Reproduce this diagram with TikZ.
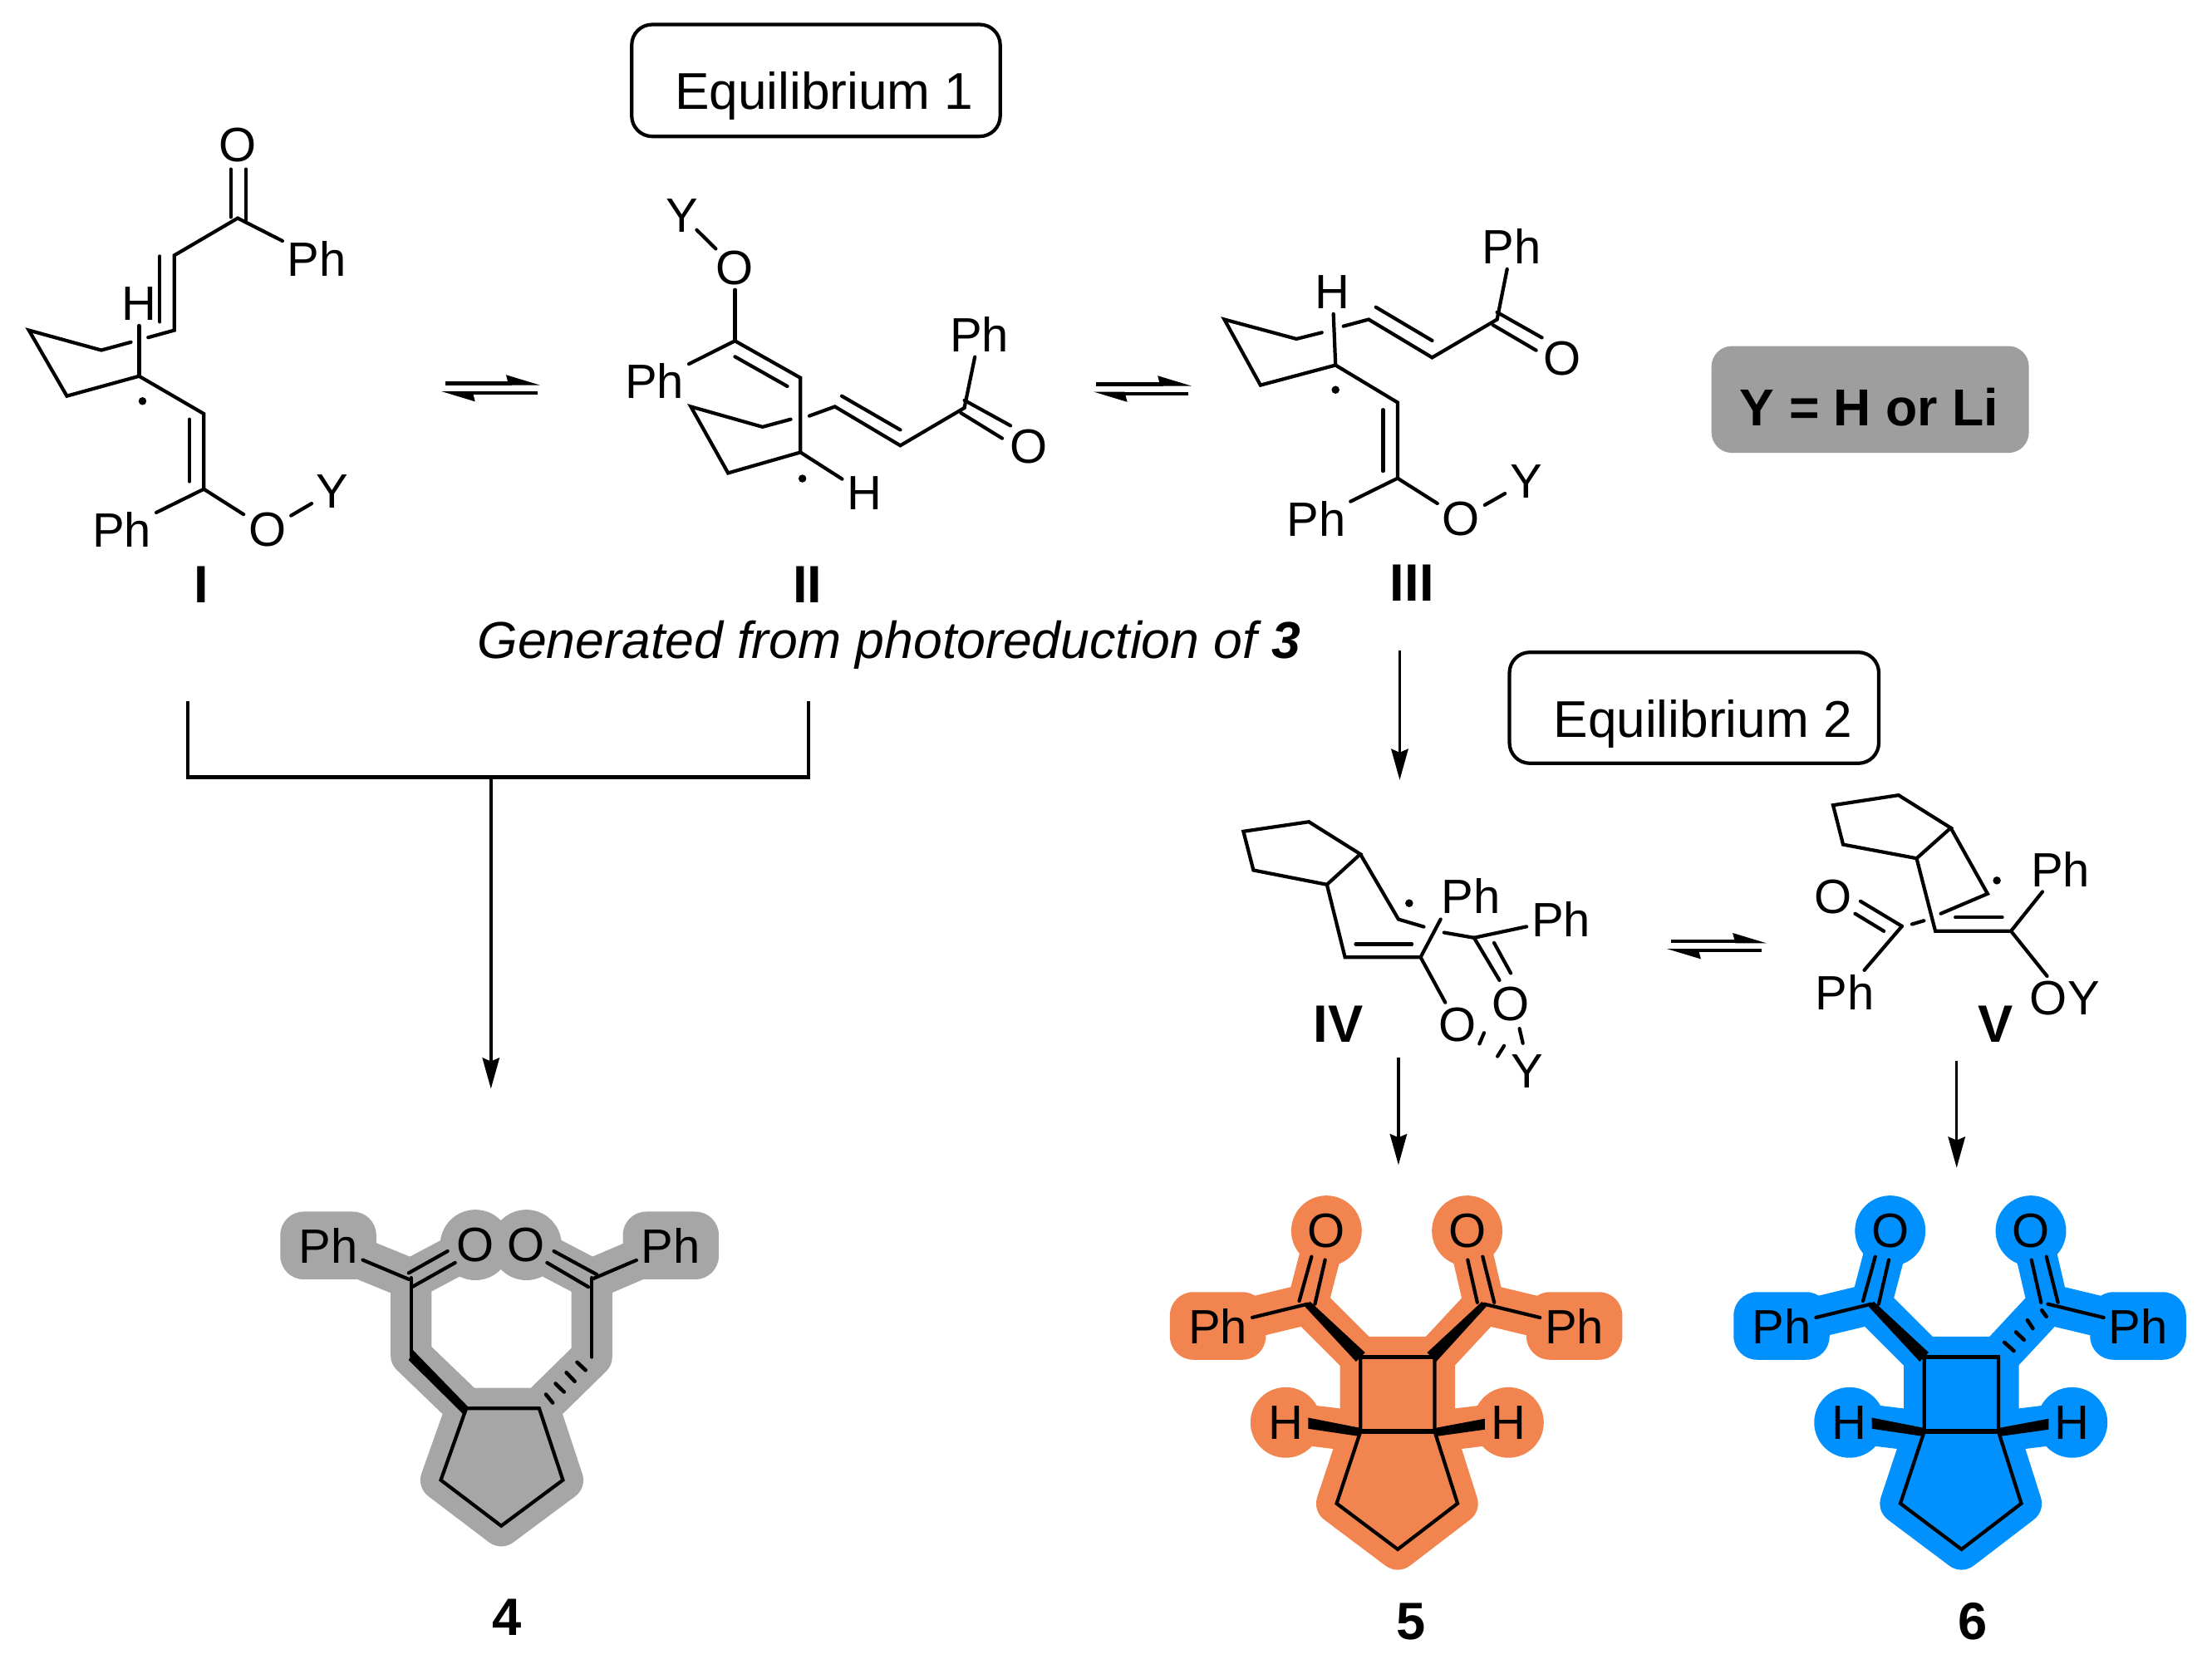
\documentclass[tikz,border=0pt]{standalone}
\usepackage{fontspec}
\setmainfont{Liberation Sans}
\usetikzlibrary{arrows.meta,positioning}

\definecolor{halogray}{HTML}{A6A6A6}
\definecolor{halored}{HTML}{F1844F}
\definecolor{haloblue}{HTML}{0091FF}
\definecolor{keygray}{HTML}{9E9E9E}

\tikzset{
    bond/.style={line width=1.2pt, line cap=round, line join=miter},
    heavy/.style={line width=1.6pt, line cap=butt},
    atom/.style={font=\fontsize{16.5}{19}\selectfont, inner sep=1.5pt},
    tag/.style={font=\fontsize{18}{21}\bfseries\selectfont, inner sep=0pt},
    caption/.style={font=\fontsize{17.7}{21}\selectfont, inner sep=0pt, anchor=base west},
    frame/.style={line width=1.2pt, rounded corners=7pt},
    rxn/.style={line width=1pt, -{Stealth[length=10.6pt, width=5.8pt, inset=1.2pt]}},
    eqline/.style={line width=1.2pt, -{Stealth[harpoon, length=9.5pt, width=5.5pt, inset=0.6pt]}},
    halo/.style={line width=14pt, line cap=round, line join=round, draw=#1}
}

% halo blobs behind the Ph and O/H labels
\newcommand{\phblob}[3]{\fill[#1, rounded corners=8pt] (#2-34,#3-24) rectangle (#2+34,#3+24);}
\newcommand{\atomblob}[3]{\fill[#1] (#2,#3) circle (25);}

% bicyclic product, coloured halo and all bonds shared by 5 and 6
\newcommand{\bicyclic}[2]{
    \draw[halo=#2, fill=#2] (964.4,962.2) -- (1017,962.2) -- (1017,1015) -- (1033.2,1066) -- (990.8,1098.5) -- (947.5,1066) -- (964.4,1015) -- cycle;
    \draw[halo=#2] (940.3,873) -- (926.8,924.6) -- (964.4,962.2);
    \draw[halo=#2] (1040,873) -- (1052,924.6) -- (1017,962.2);
    \draw[halo=#2] (863,940) -- (926.8,924.6);
    \draw[halo=#2] (1116,940) -- (1052,924.6);
    \draw[halo=#2] (911.4,1008.6) -- (964.4,1015);
    \draw[halo=#2] (1069.3,1008.6) -- (1017,1015);
    \phblob{#2}{863.3}{940.1}
    \phblob{#2}{1116}{940.1}
    \atomblob{#2}{940.3}{872.7}
    \atomblob{#2}{1040}{872.7}
    \atomblob{#2}{911.4}{1008.6}
    \atomblob{#2}{1069.3}{1008.6}
    \node[atom] (#1ol) at (940.3,872.7) {O};
    \node[atom] (#1or) at (1040,872.7) {O};
    \node[atom] (#1phl) at (863.3,940.1) {Ph};
    \node[atom] (#1phr) at (1116,940.1) {Ph};
    \node[atom] (#1hl) at (911.4,1008.6) {H};
    \node[atom] (#1hr) at (1069.3,1008.6) {H};
    \coordinate (#1cl) at (926.8,924.6);
    \coordinate (#1cr) at (1052,924.6);
    \draw[bond] (#1cl) -- (#1phl);
    \draw[bond] (#1cr) -- (#1phr);
    \draw[bond] (921,922.4) -- (929.7,891);
    \draw[bond] (932.1,924.6) -- (939.3,893.3);
    \draw[bond] (1047.2,923.5) -- (1040.4,893.3);
    \draw[bond] (1059.2,923.5) -- (1051,891);
    % wedges
    \fill (928.6,922.8) -- (967.6,959) -- (961.2,965.4) -- (925,926.4) -- cycle;
    \fill (964.4,1012.5) -- (964.4,1018.5) -- (927.3,1013) -- (927.3,1005.2) -- cycle;
    \fill (1017.3,1012.5) -- (1017.3,1018.5) -- (1052.5,1013.6) -- (1052.5,1005.9) -- cycle;
    % ring
    \draw[heavy] (963,962.2) -- (1018,962.2);
    \draw[bond] (964.4,962.2) -- (964.4,1015) -- (947.5,1066) -- (990.8,1098.5) -- (1033.2,1066) -- (1017,1015) -- (1017,962.2);
    \draw[heavy] (963,1015) -- (1018,1015);
}

\begin{document}
\begin{tikzpicture}[x=0.016977cm, y=-0.016977cm]
    \useasboundingbox (0,0) rectangle (1568,1182.8);

    % Structure I
    \node[atom] (Io) at (168.5,102.7) {O};
    \node[atom] (Iph) at (224.6,183.2) {Ph};
    \node[atom] (Ih) at (98.6,215.6) {H};
    \node[atom] (Iphb) at (86.4,375.4) {Ph};
    \node[atom] (Ioy) at (189.5,375.4) {O};
    \node[atom] (Iy) at (235.8,348.3) {Y};
    \node[tag] (Ilab) at (143,414.4) {I};
    \coordinate (Ic) at (168.5,154.7);
    \coordinate (Ir) at (98.6,266.7);
    \coordinate (Ie) at (144.5,346.8);
    \draw[bond] (163.6,120) -- (163.6,154);
    \draw[bond] (174.3,120) -- (174.3,156);
    \draw[bond] (Ic) -- (Iph);
    \draw[bond] (Ic) -- (123.5,181.1) -- (123.5,234.2) -- (105,239.3);
    \draw[bond] (113.3,181.7) -- (113.3,228.2);
    \draw[bond] (92.8,242.6) -- (71.8,248.3) -- (20.5,234.2) -- (47.4,280.8) -- (Ir);
    \draw[bond] (Ir) -- (Ih);
    \fill (101,284.4) circle (2.8);
    \draw[bond] (Ir) -- (144.5,293.4) -- (Ie);
    \draw[bond] (134.3,297.3) -- (134.3,341.4);
    \draw[bond] (Ie) -- (Iphb);
    \draw[bond] (Ie) -- (Ioy);
    \draw[bond] (Ioy) -- (Iy);

    % Equilibrium 1
    \draw[frame] (447.8,17.4) rectangle (709,96.7);
    \node[caption] (eqone) at (478,77.5) {Equilibrium 1};
    \coordinate (ea) at (316,271.8);
    \coordinate (eb) at (383,271.8);
    \coordinate (ec) at (380.9,278.7);
    \coordinate (ed) at (312.5,278.7);
    \draw[eqline] (ea) -- (eb);
    \draw[eqline] (ec) -- (ed);

    % Structure II
    \node[atom] (IIy) at (483.4,152.7) {Y};
    \node[atom] (IIo) at (521,189.8) {O};
    \node[atom] (IIph) at (463.9,270.3) {Ph};
    \node[atom] (IIphb) at (694.3,237.2) {Ph};
    \node[atom] (IIob) at (729,316.8) {O};
    \node[atom] (IIh) at (612.8,349.8) {H};
    \node[tag] (IIlab) at (572.3,414.4) {II};
    \coordinate (IIc) at (521,241.7);
    \coordinate (IIr) at (567.4,320.7);
    \coordinate (IIk) at (683.6,289.2);
    \draw[bond, shorten <=-3pt, shorten >=-1.5pt] (IIy) -- (IIo);
    \draw[bond] (IIo) -- (IIc);
    \draw[bond] (IIc) -- (IIph);
    \draw[bond] (IIc) -- (567.4,267.9) -- (IIr);
    \draw[bond] (521,252.9) -- (558.1,273.9);
    \draw[bond] (IIr) -- (516.1,335.4) -- (489.7,288.3) -- (540.5,302.7) -- (560.5,297.3);
    \draw[bond] (573.7,294.9) -- (591.8,288.3) -- (638.2,315.9) -- (IIk);
    \draw[bond] (596.7,280.8) -- (638.2,304.8);
    \draw[bond] (IIk) -- (IIphb);
    \draw[bond] (683.6,283.8) -- (716.3,301.8);
    \draw[bond] (681.2,292.8) -- (710.4,310.8);
    \draw[bond] (IIr) -- (IIh);
    \fill (568.8,339.3) circle (2.8);

    \coordinate (fa) at (776.9,272.4);
    \coordinate (fb) at (844.9,272.4);
    \coordinate (fc) at (842.3,279);
    \coordinate (fd) at (774.8,279);
    \draw[eqline] (fa) -- (fb);
    \draw[eqline] (fc) -- (fd);

    % Structure III
    \node[atom] (IIIph) at (1071.5,174.9) {Ph};
    \node[atom] (IIIo) at (1107.3,254.4) {O};
    \node[atom] (IIIh) at (944.6,207.3) {H};
    \node[atom] (IIIphb) at (932.9,367.6) {Ph};
    \node[atom] (IIIoy) at (1035.7,367.6) {O};
    \node[atom] (IIIy) at (1081.7,341.5) {Y};
    \node[tag] (IIIlab) at (1000.9,413.6) {III};
    \coordinate (IIIk) at (1061.2,226.5);
    \coordinate (IIIr) at (946.7,258.9);
    \coordinate (IIIe) at (990.7,339.1);
    \draw[bond] (IIIk) -- (IIIph);
    \draw[bond] (1061.2,221.4) -- (1093,239.4);
    \draw[bond] (1058.2,230.4) -- (1088.9,248.4);
    \draw[bond] (IIIk) -- (1015.2,253.5) -- (970.2,226.5) -- (952.3,231.3);
    \draw[bond] (975.3,217.8) -- (1015.2,241.5);
    \draw[bond] (937,235.8) -- (919,240.3) -- (867.9,226.5) -- (893.5,273.1) -- (IIIr);
    \draw[bond] (IIIr) -- (IIIh);
    \fill (946.7,276.4) circle (2.8);
    \draw[bond] (IIIr) -- (990.7,285.4) -- (IIIe);
    \draw[bond] (980.4,290.5) -- (980.4,334);
    \draw[bond] (IIIe) -- (IIIphb);
    \draw[bond] (IIIe) -- (IIIoy);
    \draw[bond] (IIIoy) -- (IIIy);

    % Key
    \fill[keygray, rounded corners=7pt] (1213.2,245.4) rectangle (1438.2,321.1);
    \node[caption, font=\fontsize{17.8}{21}\bfseries\selectfont] (key) at (1233,301.6) {Y = H or Li};

    \node[caption, font=\fontsize{17.8}{21}\selectfont] (source) at (338,467) {\itshape Generated from photoreduction of \bfseries 3};

    % Bracket to 4
    \coordinate (bl) at (133,497);
    \coordinate (br) at (573,497);
    \coordinate (bm) at (348,551);
    \coordinate (bt) at (348,772);
    \draw[bond, line cap=butt] (bl) |- (br |- bm) -- (br);
    \draw[rxn] (bm) -- (bt);

    \coordinate (ca) at (992.2,461);
    \coordinate (cb) at (992.2,553);
    \draw[rxn] (ca) -- (cb);

    % Equilibrium 2
    \draw[frame] (1070,462.5) rectangle (1331.8,541.2);
    \node[caption] (eqtwo) at (1100.8,522.6) {Equilibrium 2};

    % Structure IV
    \node[atom] (IVph) at (1042.5,635) {Ph};
    \node[atom] (IVphb) at (1106.5,651.8) {Ph};
    \node[atom] (IVo) at (1033,726.4) {O};
    \node[atom] (IVob) at (1071,711.6) {O};
    \node[atom] (IVy) at (1082.8,759.7) {Y};
    \node[tag] (IVlab) at (948.7,726.4) {IV};
    \coordinate (IVa) at (1007,678.7);
    \coordinate (IVk) at (1044.9,664.9);
    \draw[bond] (964.3,605.6) -- (927.8,582.7) -- (881.4,589.5) -- (888.5,617) -- (940.6,627.2) -- cycle;
    \draw[bond] (964.3,605.6) -- (991.3,651.8) -- (1009.3,657.1);
    \draw[bond] (1023.6,661.2) -- (IVk);
    \draw[bond] (940.6,627.2) -- (953.4,678.7) -- (IVa);
    \draw[bond] (961,669.4) -- (1000.8,669.4);
    \draw[bond] (IVa) -- (1021.2,651.8);
    \draw[bond] (IVa) -- (IVo);
    \draw[bond] (IVk) -- (IVphb);
    \draw[bond] (IVk) -- (1062.9,695);
    \draw[bond] (1059.1,668.5) -- (1070.9,690);
    \fill (998.9,640.4) circle (2.8);
    \foreach \xa/\ya/\xb/\yb in {1052/732.3/1048.7/740.1, 1066.2/741.5/1061.5/749, 1077.1/729.3/1079.5/739.7}
        \draw[bond] (\xa,\ya) -- (\xb,\yb);

    \coordinate (ga) at (1184.7,667.5);
    \coordinate (gb) at (1252.5,667.5);
    \coordinate (gc) at (1248.7,674);
    \coordinate (gd) at (1181.4,674);
    \draw[eqline] (ga) -- (gb);
    \draw[eqline] (gc) -- (gd);

    % Structure V
    \node[atom] (Vph) at (1460.5,616.4) {Ph};
    \node[atom] (Vo) at (1299.4,636) {O};
    \node[atom] (Vphb) at (1307.9,703.8) {Ph};
    \node[atom] (Voy) at (1463.6,707.7) {OY};
    \node[tag] (Vlab) at (1414.5,726.4) {V};
    \coordinate (Va) at (1425.5,660.2);
    \coordinate (Vk) at (1348.2,656.7);
    \draw[bond] (1382.8,587) -- (1345.8,563.8) -- (1299.4,570.9) -- (1306.5,598.8) -- (1358.6,608.6) -- cycle;
    \draw[bond] (1382.8,587) -- (1408.9,633.7) -- (1375.7,647.8);
    \draw[bond] (1358.6,608.6) -- (1371.9,660.2) -- (Va);
    \draw[bond] (1386.1,650.4) -- (1419.3,650.4);
    \draw[bond] (Va) -- (Vph);
    \draw[bond] (Va) -- (Voy);
    \draw[bond] (Vk) -- (1318.8,639);
    \draw[bond] (1335.4,660.2) -- (1315,647.8);
    \draw[bond] (Vk) -- (Vphb);
    \draw[bond] (1355.3,655.3) -- (1363.8,652.8);
    \fill (1415.5,624.3) circle (2.8);

    \coordinate (ha) at (991.3,750);
    \coordinate (hb) at (991.3,826);
    \coordinate (ja) at (1387,752);
    \coordinate (jb) at (1387,828);
    \draw[rxn] (ha) -- (hb);
    \draw[rxn] (ja) -- (jb);

    % Product 4
    \draw[halo=halogray, line width=14pt, fill=halogray] (330.5,998.6) -- (382.2,998.6) -- (399,1049.4) -- (355.3,1081.9) -- (312.5,1049.4) -- cycle;
    \draw[halo=halogray] (232.7,883) -- (291.4,907) -- (291.4,961) -- (330.5,998.6);
    \draw[halo=halogray] (337,882.7) -- (291.4,907);
    \draw[halo=halogray] (475.5,883) -- (419.5,907) -- (419.5,962) -- (382.2,998.6);
    \draw[halo=halogray] (373.1,882.7) -- (419.5,907);
    \phblob{halogray}{232.7}{883.1}
    \phblob{halogray}{475.5}{883.1}
    \atomblob{halogray}{337}{882.7}
    \atomblob{halogray}{373.1}{882.7}
    \node[atom] (fphl) at (232.7,883.1) {Ph};
    \node[atom] (fol) at (337,882.7) {O};
    \node[atom] (for) at (373.1,882.7) {O};
    \node[atom] (fphr) at (475.5,883.1) {Ph};
    \node[tag] (flab) at (359.4,1146.6) {4};
    \coordinate (fcl) at (289.7,907);
    \coordinate (fcr) at (419.5,907);
    \draw[bond] (fcl) -- (fphl);
    \draw[bond] (fcr) -- (fphr);
    \draw[bond] (289.7,902.6) -- (317.3,887.1);
    \draw[bond] (292.1,912.5) -- (322.6,895.3);
    \draw[bond] (423.1,903.7) -- (392.6,887.1);
    \draw[bond] (417.1,912.5) -- (387.8,895.3);
    \draw[bond] (291.4,906) -- (291.4,961);
    \draw[bond] (419.5,906) -- (419.5,962.2);
    \fill (292.8,957.3) -- (332.9,998.6) -- (328.1,1002.4) -- (289.7,964.4) -- cycle;
    \draw[bond] (330.5,998.6) -- (382.2,998.6) -- (399,1049.4) -- (355.3,1081.9) -- (312.5,1049.4) -- cycle;
    \foreach \xa/\ya/\xb/\yb in {387/988.7/391.8/994.6, 393.8/981/399.8/986.9, 401.5/973.2/407.4/979.4, 409.1/965.9/415.1/971.5}
        \draw[bond, line width=1.3pt] (\xa,\ya) -- (\xb,\yb);

    % Product 5
    \bicyclic{five}{halored}
    \node[tag] (fivelab) at (1000.5,1149.9) {5};
    \fill (1053.6,926.4) -- (1050.4,923) -- (1011.7,959) -- (1018.1,965.4) -- cycle;

    % Product 6
    \begin{scope}[shift={(399.6,0)}]
        \bicyclic{six}{haloblue}
        \node[tag] (sixlab) at (999,1149.9) {6};
    \end{scope}
    \foreach \xa/\ya/\xb/\yb in {1447.3/929/1450.6/933.5, 1437.2/936.1/1441/941.9, 1429/944.5/1434.7/950, 1420.8/951.8/1427.5/957.8}
        \draw[bond, line width=1.3pt] (\xa,\ya) -- (\xb,\yb);
\end{tikzpicture}
\end{document}
